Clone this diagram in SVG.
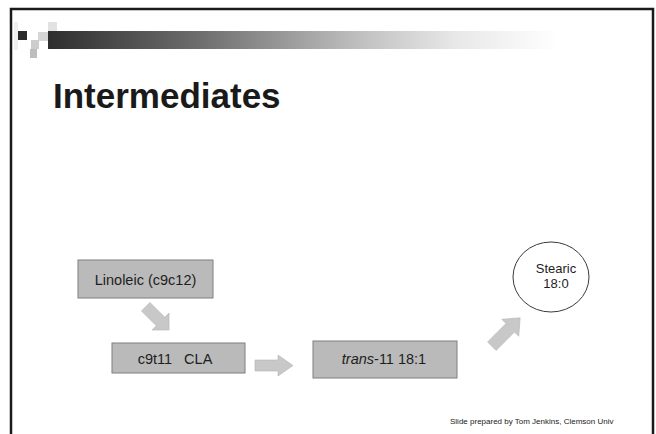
<svg xmlns="http://www.w3.org/2000/svg" width="656" height="434" viewBox="0 0 656 434">
  <defs>
    <linearGradient id="barGrad" x1="0" y1="0" x2="1" y2="0">
      <stop offset="0" stop-color="#2e2e2e"/>
      <stop offset="0.3" stop-color="#6e6e6e"/>
      <stop offset="0.6" stop-color="#bdbdbd"/>
      <stop offset="0.8" stop-color="#e8e8e8"/>
      <stop offset="1" stop-color="#ffffff"/>
    </linearGradient>
    <style>
      .frame { fill: none; stroke: #1a1a1a; stroke-width: 2.5; }
      .box { fill: #bababa; stroke: #7e7e7e; stroke-width: 1; }
      .oval { fill: #ffffff; stroke: #3a3a3a; stroke-width: 1; }
      .label { font-family: "Liberation Sans", Arial, sans-serif; font-size: 14.5px; fill: #1e1e1e; text-anchor: middle; }
      .small { font-size: 13px; }
      .title { font-family: "Liberation Sans", Arial, sans-serif; font-size: 35px; font-weight: bold; fill: #1a1a1a; }
      .credit { font-family: "Liberation Sans", Arial, sans-serif; font-size: 8px; fill: #222; }
      .flow { fill: #c8c8c8; stroke: #b4b4b4; stroke-width: 0.6; }
    </style>
  </defs>

  <rect width="656" height="434" fill="#ffffff"/>

  <!-- slide frame (top, left, right edges) -->
  <path class="frame" d="M11 434 V9 H653 V434"/>

  <!-- header decoration -->
  <g id="header">
    <rect x="48" y="22" width="9" height="10" fill="#e2e2e2"/>
    <rect x="38" y="32" width="10" height="9" fill="#d6d6d6"/>
    <rect x="31" y="40" width="8" height="9" fill="#cdcdcd"/>
    <rect x="30" y="49" width="7" height="9" fill="#bdbdbd"/>
    <rect x="14" y="22" width="4" height="28" fill="#f0f0f0"/>
    <rect x="18" y="31" width="9" height="9" fill="#2a2a2a"/>
    <rect x="48" y="31" width="510" height="18" fill="url(#barGrad)"/>
  </g>

  <text class="title" x="53" y="108">Intermediates</text>

  <!-- connectors: broad block arrows -->
  <g id="connectors">
    <!-- Linoleic -> c9t11 CLA -->
    <polygon class="flow" transform="translate(157 318) rotate(45)" points="-16,-6 5,-6 5,-12 17,0 5,12 5,6 -16,6"/>
    <!-- c9t11 CLA -> trans-11 18:1 -->
    <polygon class="flow" points="255,360 278,360 278,355 293,365.5 278,376 278,371 255,371"/>
    <!-- trans-11 18:1 -> Stearic -->
    <polygon class="flow" transform="translate(506 332) rotate(-45)" points="-20,-6 6,-6 6,-12 20,0 6,12 6,6 -20,6"/>
  </g>

  <g id="linoleic">
    <rect class="box" x="78" y="260" width="135" height="38"/>
    <text class="label" x="145.5" y="285">Linoleic (c9c12)</text>
  </g>

  <g id="cla">
    <rect class="box" x="112" y="343" width="133" height="30"/>
    <text class="label" x="175" y="364" xml:space="preserve">c9t11   CLA</text>
  </g>

  <g id="trans11">
    <rect class="box" x="313" y="341" width="144" height="37"/>
    <text class="label" x="384" y="364"><tspan font-style="italic">trans</tspan>-11 18:1</text>
  </g>

  <g id="stearic">
    <ellipse class="oval" cx="551" cy="277" rx="38" ry="35"/>
    <text class="label small" x="556" y="273">Stearic</text>
    <text class="label small" x="556" y="288">18:0</text>
  </g>

  <text class="credit" x="450" y="424">Slide prepared by Tom Jenkins, Clemson Univ</text>
</svg>
